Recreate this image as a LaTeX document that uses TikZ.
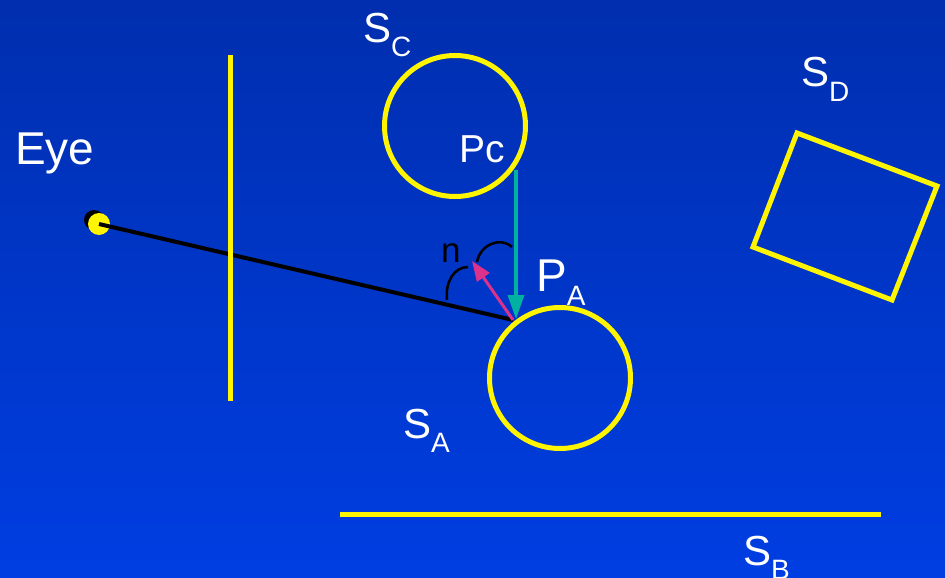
\documentclass[tikz,border=0pt]{standalone}
\usepackage{fontspec}
\setmainfont{Liberation Sans}
\usetikzlibrary{arrows.meta}
\definecolor{bgtop}{RGB}{0,46,174}
\definecolor{bgbot}{RGB}{0,62,226}
\definecolor{ylw}{RGB}{255,245,0}
\definecolor{teal2}{RGB}{0,176,160}
\definecolor{mag}{RGB}{220,50,140}
\newcommand{\subtxt}[1]{\raisebox{-14pt}{\fontsize{28}{28}\selectfont #1}}
\begin{document}
\begin{tikzpicture}[x=1pt,y=-1pt,
  ylwline/.style={draw=ylw,line width=5pt},
  lbl/.style={text=white,anchor=base west,inner sep=0pt,font=\fontsize{42}{42}\selectfont}]
\shade[top color=bgtop,bottom color=bgbot] (0,0) rectangle (945,578);
\useasboundingbox (0,0) rectangle (945,578);
% eye
\coordinate (eye) at (99,224);
\coordinate (pa) at (513,320);
\coordinate (pc) at (516,170);
\coordinate (pab) at (516,319);
\coordinate (ntip) at (472,261);
\fill[black] (94,220) circle (10);
\fill[ylw] (eye) circle (11);
\draw[black,line width=4pt] (eye) -- (pa);
% screen
\coordinate (scrT) at (230,55);
\coordinate (scrB) at (230,401);
\draw[ylwline] (scrT) -- (scrB);
% spheres
\node[circle,ylwline,minimum size=141pt,inner sep=0pt] (sc) at (455,126) {};
\node[circle,ylwline,minimum size=141pt,inner sep=0pt] (sa) at (560,378) {};
% plane
\coordinate (sbL) at (340,514);
\coordinate (sbR) at (881,514);
\draw[ylwline] (sbL) -- (sbR);
% box
\draw[ylwline,line join=miter] (797,133) -- (937,186) -- (892,300) -- (753,247) -- cycle;
% arrows
\draw[teal2,line width=3.5pt,-{Triangle[length=24pt,width=16pt]}] (pc) -- (pab);
\draw[mag,line width=3pt,-{Triangle[length=20pt,width=15pt]}] (pa) -- (ntip);
% angle arcs
\draw[black,line width=2.5pt] (447,300) .. controls (445,282) and (454,267) .. (468,267);
\draw[black,line width=2.5pt] (477,262) .. controls (480,245) and (500,236) .. (512,247);
% labels
\node[lbl] (lsc) at (363,43) {S\subtxt{C}};
\node[lbl,font=\fontsize{46}{46}\selectfont] (leye) at (15,164) {Eye};
\node[lbl,font=\fontsize{39}{39}\selectfont] (lpc) at (459,162) {Pc};
\node[lbl,font=\fontsize{35}{35}\selectfont,text=black] (ln) at (441,262) {n};
\node[lbl,font=\fontsize{46}{46}\selectfont] (lpa) at (536,291) {P\subtxt{A}};
\node[lbl] (lsa) at (403,438) {S\subtxt{A}};
\node[lbl] (lsd) at (801,87) {S\subtxt{D}};
\node[lbl] (lsb) at (743,565) {S\subtxt{B}};
\end{tikzpicture}
\end{document}
